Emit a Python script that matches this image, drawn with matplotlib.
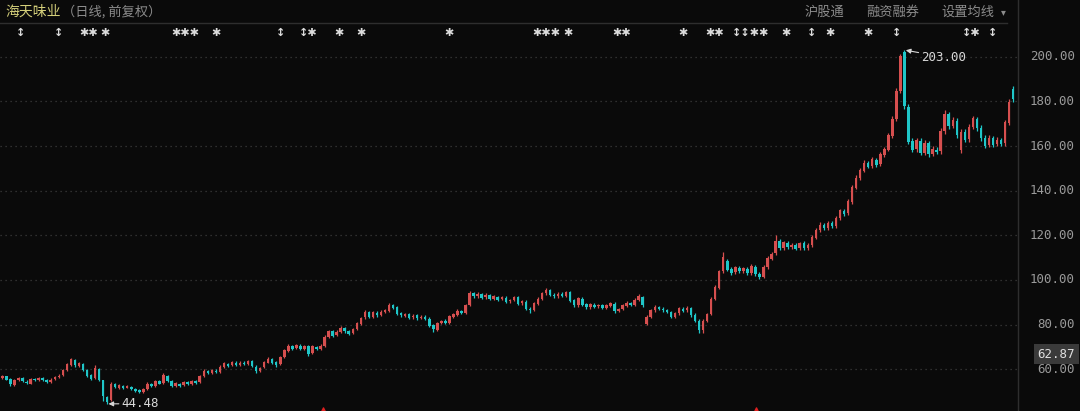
import matplotlib.pyplot as plt

# Daily candles (forward adjusted)
opens = [
    56.0, 56.8, 55.6, 53.0, 55.0, 56.1, 54.5, 53.6, 55.8, 55.0,
    56.2, 55.2, 54.1, 55.5, 56.5, 57.3, 59.6, 62.0, 64.2, 61.6,
    62.4, 59.5, 57.4, 56.0, 60.2, 55.0, 47.6, 46.2, 53.2, 51.8,
    52.6, 51.8, 52.2, 51.0, 50.6, 49.9, 51.0, 53.4, 52.6, 54.6,
    54.0, 57.0, 54.6, 52.6, 53.6, 52.8, 54.2, 53.2, 54.6, 54.2,
    57.0, 59.2, 58.4, 59.4, 58.8, 61.0, 62.4, 61.8, 63.0, 62.0,
    63.0, 62.4, 63.6, 61.2, 59.2, 60.8, 63.0, 64.6, 63.2, 62.2,
    65.6, 68.4, 70.4, 69.4, 70.6, 69.2, 70.2, 67.2, 70.0, 69.2,
    70.6, 74.4, 77.0, 75.2, 76.6, 78.4, 77.2, 76.2, 78.2, 80.4,
    83.2, 85.6, 83.6, 85.4, 84.4, 85.6, 86.2, 88.6, 87.8, 85.0,
    84.0, 84.6, 83.2, 84.2, 83.0, 83.6, 82.6, 79.6, 77.6, 80.8,
    81.8, 80.8, 83.6, 84.4, 86.0, 85.4, 89.0, 94.0, 92.6, 93.6,
    92.2, 93.2, 91.6, 92.4, 91.4, 92.0, 90.4, 91.2, 92.2, 89.6,
    90.2, 87.2, 86.6, 89.4, 91.4, 94.0, 95.4, 93.4, 92.6, 93.8,
    93.0, 94.6, 90.8, 88.6, 91.6, 89.2, 87.8, 89.0, 88.2, 88.8,
    87.6, 88.4, 89.4, 86.2, 87.0, 88.4, 89.6, 89.0, 91.2, 92.2,
    80.2, 83.6, 86.4, 87.8, 87.2, 86.6, 85.6, 83.6, 85.0, 87.2,
    86.4, 87.4, 84.4, 81.8, 77.6, 81.6, 84.8, 91.4, 96.6, 104.0,
    108.4, 104.8, 103.4, 105.4, 104.0, 105.0, 103.2, 106.0, 102.8, 101.4,
    105.6, 109.6, 112.0, 117.4, 114.4, 116.6, 114.8, 115.8, 114.2, 116.6,
    114.4, 115.6, 119.0, 122.4, 124.6, 123.4, 125.4, 124.2, 127.6, 131.0,
    129.8, 135.0, 141.4, 145.6, 149.0, 152.4, 151.0, 153.8, 151.8, 156.0,
    158.4, 164.6, 172.0, 184.6, 202.2, 177.6, 162.2, 158.6, 162.4, 157.0,
    161.2, 156.4, 158.4, 157.6, 166.6, 174.2, 169.0, 171.4, 158.0, 166.2,
    163.0, 168.4, 172.2, 168.2, 163.6, 160.4, 163.4, 160.8, 162.6, 161.2,
    170.4, 185.6,
]
closes = [
    56.8, 55.4, 53.2, 55.2, 56.0, 54.6, 53.8, 55.7, 55.1, 56.2,
    55.3, 54.2, 55.4, 56.6, 57.2, 59.8, 62.4, 64.4, 61.8, 62.6,
    59.6, 57.2, 55.6, 60.6, 55.4, 47.8, 45.4, 53.4, 52.0, 52.8,
    51.6, 52.4, 51.0, 50.4, 49.8, 51.0, 53.6, 52.6, 54.8, 53.6,
    57.4, 54.8, 52.4, 53.8, 52.6, 54.4, 53.2, 54.6, 54.0, 57.0,
    59.4, 58.2, 59.6, 58.6, 61.2, 62.6, 61.6, 63.2, 61.8, 63.0,
    62.2, 63.8, 61.4, 59.0, 60.6, 63.2, 64.8, 63.0, 62.0, 65.6,
    68.6, 70.6, 69.2, 70.8, 69.0, 70.4, 67.0, 70.2, 69.0, 70.6,
    74.6, 77.2, 75.0, 76.8, 78.6, 77.0, 76.0, 78.0, 80.6, 83.0,
    85.8, 83.4, 85.6, 84.2, 85.8, 86.4, 88.8, 87.6, 84.8, 84.2,
    84.8, 83.0, 84.0, 82.8, 83.6, 82.6, 79.4, 78.0, 80.6, 81.6,
    80.8, 83.8, 84.6, 86.2, 85.2, 88.8, 94.2, 92.6, 93.8, 92.0,
    93.4, 91.4, 92.6, 91.2, 92.2, 90.2, 91.0, 92.4, 89.4, 90.4,
    87.0, 86.4, 89.6, 91.6, 94.2, 95.6, 93.2, 92.6, 93.8, 92.8,
    94.4, 90.6, 88.6, 91.8, 89.0, 87.8, 89.2, 88.0, 88.8, 87.6,
    88.6, 89.6, 86.0, 87.0, 88.6, 89.8, 88.8, 91.2, 93.0, 88.6,
    83.6, 86.6, 88.0, 87.0, 86.4, 85.6, 83.4, 85.2, 87.4, 86.2,
    87.6, 84.2, 81.6, 77.8, 81.8, 84.6, 91.6, 96.8, 103.8, 110.2,
    104.6, 103.2, 105.6, 103.8, 105.2, 103.0, 106.2, 102.6, 101.2, 105.8,
    109.8, 111.8, 117.6, 114.2, 116.8, 114.6, 115.6, 114.0, 116.4, 114.2,
    115.6, 119.2, 122.6, 124.8, 123.2, 125.6, 124.0, 127.8, 131.2, 129.6,
    135.2, 141.6, 145.8, 149.2, 152.6, 150.8, 154.0, 151.6, 156.2, 158.6,
    164.8, 172.2, 184.8, 200.4, 178.0, 162.0, 158.4, 162.6, 156.8, 161.4,
    156.2, 158.6, 157.4, 166.8, 174.4, 168.8, 171.6, 164.8, 166.4, 162.8,
    168.6, 172.4, 168.0, 163.4, 160.2, 163.6, 160.6, 162.8, 161.0, 170.6,
    179.6, 181.2,
]
highs = [
    57.3, 57.2, 56.0, 55.6, 56.6, 56.5, 55.0, 56.2, 56.2, 56.7,
    56.6, 55.7, 55.9, 57.0, 57.7, 60.3, 62.9, 65.2, 64.6, 63.1,
    62.9, 60.0, 57.9, 61.8, 60.7, 55.4, 48.2, 54.2, 53.7, 53.3,
    53.0, 52.9, 52.6, 51.4, 51.0, 51.4, 54.1, 53.8, 55.3, 55.0,
    58.2, 57.5, 55.0, 54.2, 54.0, 54.8, 54.6, 55.0, 55.0, 57.5,
    59.9, 59.7, 60.1, 59.9, 61.7, 63.1, 62.9, 63.7, 63.5, 63.5,
    63.5, 64.3, 64.1, 61.7, 61.1, 63.7, 65.3, 65.1, 63.7, 66.1,
    69.2, 71.2, 71.0, 71.4, 71.2, 71.0, 70.8, 70.8, 70.6, 71.2,
    75.2, 77.8, 77.6, 77.4, 79.2, 79.0, 77.8, 78.6, 81.2, 83.6,
    86.5, 86.2, 86.2, 86.0, 86.4, 87.0, 89.8, 89.2, 88.3, 85.6,
    85.4, 85.2, 84.6, 84.8, 84.2, 84.2, 83.2, 80.2, 81.2, 82.2,
    82.4, 84.4, 85.2, 86.8, 86.6, 89.4, 95.0, 94.6, 94.4, 94.2,
    94.0, 93.8, 93.2, 93.0, 92.8, 92.6, 91.6, 93.0, 92.8, 91.0,
    90.8, 87.8, 90.2, 92.2, 94.8, 96.4, 96.0, 94.0, 94.4, 94.4,
    95.0, 95.2, 91.4, 92.4, 92.2, 89.8, 89.8, 89.6, 89.4, 89.4,
    89.2, 90.2, 90.0, 87.6, 89.2, 90.4, 90.2, 91.8, 93.6, 92.8,
    84.2, 87.2, 88.6, 88.4, 87.8, 87.2, 86.2, 85.8, 88.0, 87.8,
    88.2, 88.0, 85.0, 82.4, 82.4, 85.2, 92.2, 97.6, 104.6, 112.6,
    109.2, 105.6, 106.4, 106.2, 106.0, 105.8, 107.0, 106.8, 103.6, 106.6,
    110.6, 112.6, 120.0, 118.2, 117.6, 117.4, 116.4, 116.6, 117.2, 117.4,
    116.4, 120.0, 123.4, 125.8, 125.4, 126.4, 126.2, 128.6, 132.0, 131.8,
    136.2, 142.6, 146.8, 150.2, 153.6, 153.4, 155.0, 154.8, 157.2, 159.6,
    166.0, 173.4, 186.0, 201.2, 203.0, 178.6, 163.4, 163.8, 163.6, 162.6,
    162.4, 159.8, 159.6, 168.0, 176.0, 175.4, 172.8, 172.6, 167.6, 167.4,
    169.8, 173.4, 173.2, 169.4, 164.8, 164.8, 164.6, 164.0, 163.8, 171.8,
    181.0, 186.8,
]
lows = [
    55.6, 55.0, 52.6, 52.5, 54.6, 54.1, 53.3, 53.2, 54.7, 54.6,
    54.9, 53.7, 53.7, 55.1, 56.1, 56.9, 59.2, 61.6, 61.2, 61.1,
    59.1, 56.7, 55.1, 55.6, 54.9, 46.0, 44.48, 45.8, 51.5, 51.3,
    51.2, 51.4, 50.6, 50.0, 49.4, 49.5, 50.6, 52.2, 52.2, 53.2,
    53.6, 54.3, 51.9, 52.2, 52.2, 52.4, 52.8, 52.8, 53.6, 53.8,
    56.6, 57.8, 58.0, 58.2, 58.4, 60.6, 61.2, 61.4, 61.3, 61.6,
    61.8, 62.0, 60.9, 58.4, 58.8, 60.4, 62.6, 62.5, 61.0, 61.8,
    65.1, 67.9, 68.7, 68.9, 68.5, 68.7, 66.0, 66.7, 68.5, 68.7,
    70.1, 73.9, 74.4, 74.7, 76.1, 76.4, 75.4, 75.7, 77.7, 79.9,
    82.6, 82.8, 83.0, 83.6, 83.8, 85.0, 85.6, 87.0, 84.2, 83.6,
    83.4, 82.4, 82.6, 82.2, 82.4, 82.0, 78.8, 76.6, 77.0, 80.2,
    80.2, 80.2, 83.0, 83.8, 84.6, 84.8, 88.4, 92.0, 92.0, 91.4,
    91.6, 90.8, 91.0, 90.6, 90.8, 89.6, 89.8, 90.6, 88.8, 89.0,
    86.4, 85.4, 86.0, 88.8, 90.8, 93.4, 92.6, 92.0, 92.0, 92.2,
    92.4, 90.0, 88.0, 88.0, 88.4, 87.2, 87.2, 87.4, 87.6, 87.0,
    87.0, 87.8, 85.4, 85.6, 86.4, 87.8, 88.2, 88.4, 90.6, 88.0,
    79.8, 83.0, 85.8, 86.4, 85.8, 85.0, 82.8, 83.0, 84.4, 85.6,
    85.8, 83.6, 81.0, 76.4, 76.2, 81.0, 84.2, 90.8, 96.0, 103.2,
    103.8, 102.4, 102.6, 103.0, 103.2, 102.2, 102.4, 101.8, 100.6, 100.8,
    104.8, 108.8, 111.2, 113.4, 113.6, 113.8, 114.0, 113.2, 113.4, 113.4,
    113.6, 114.8, 118.2, 121.6, 122.4, 122.6, 123.2, 123.4, 126.8, 128.8,
    129.0, 134.2, 140.6, 144.8, 148.2, 150.0, 150.2, 150.8, 151.0, 155.2,
    157.6, 163.8, 171.2, 183.8, 176.8, 160.8, 157.2, 157.4, 155.8, 156.0,
    155.0, 155.4, 156.4, 156.6, 165.6, 167.6, 168.0, 163.6, 157.0, 161.8,
    162.0, 167.4, 166.8, 162.4, 159.0, 159.4, 159.6, 159.8, 160.0, 160.2,
    169.4, 179.8,
]

y_ticks = [60, 80, 100, 120, 140, 160, 180, 200]
# (candle index, symbols) for the event strip under the header
event_marks = [
    (4.5, '↕'), (14, '↕'), (21.5, '✱✱'), (25.5, '✱'), (45.5, '✱✱✱'),
    (53, '✱'), (69, '↕'), (76, '↕✱'), (83.5, '✱'), (89, '✱'),
    (111, '✱'), (135, '✱✱✱'), (140.5, '✱'), (153.8, '✱✱'),
    (169, '✱'), (176.8, '✱✱'), (185.8, '↕↕✱✱'), (194.5, '✱'),
    (201, '↕'), (205.5, '✱'), (215, '✱'), (222, '↕'), (240.5, '↕✱'),
    (246, '↕'),
]
signal_marks = [79.5, 187.2]

UP = '#d64f4f'
DOWN = '#1fc6c8'
BG = '#0a0a0a'

fig = plt.figure(figsize=(10.8, 4.11), dpi=100, facecolor=BG)
ax = fig.add_axes([0, 0, 1018 / 1080, 388 / 411], facecolor=BG)

x = list(range(len(closes)))
colors = [UP if c >= o else DOWN for o, c in zip(opens, closes)]
ax.vlines(x, lows, highs, colors=colors, lw=0.9, zorder=3)
bottoms = [min(o, c) for o, c in zip(opens, closes)]
heights = [max(abs(c - o), 0.3) for o, c in zip(opens, closes)]
ax.bar(x, heights, bottom=bottoms, width=0.62, color=colors, lw=0, zorder=4)

ax.set_xlim(-0.6, 252.2)
ax.set_ylim(41.3, 215.1)
for v in y_ticks:
    ax.axhline(v, color='#3c3c3c', lw=0.9, ls=(0, (1, 3)), zorder=1)
    ax.text(1075 / 1018, v, f'{v:.2f}', transform=ax.get_yaxis_transform(),
            ha='right', va='center', color='#9a9a9a', fontsize=9,
            family='DejaVu Sans Mono', clip_on=False)

for s in ax.spines.values():
    s.set_visible(False)
ax.set_xticks([])
ax.set_yticks([])

# high / low annotations
ax.annotate('203.00', xy=(224, 203.0), xytext=(228.2, 199.8),
             color='#d8d8d8', fontsize=9, family='DejaVu Sans Mono',
             va='center', ha='left',
             arrowprops=dict(arrowstyle='-|>', color='#d8d8d8', lw=0.8,
                             mutation_scale=7, shrinkA=0, shrinkB=1))
ax.annotate('44.48', xy=(26, 44.48), xytext=(29.6, 44.6),
            color='#d8d8d8', fontsize=9, family='DejaVu Sans Mono',
            va='center', ha='left',
            arrowprops=dict(arrowstyle='-|>', color='#d8d8d8', lw=0.8,
                            mutation_scale=7, shrinkA=0, shrinkB=1))

# event strip
for xi, sym in event_marks:
    ax.text(xi, 1 - 10 / 388, sym, transform=ax.get_xaxis_transform(),
            ha='center', va='center', color='#dcdcdc', fontsize=8,
            fontweight='bold', family='DejaVu Sans')

# small red signal markers at bottom
ax.scatter(signal_marks, [41.9] * len(signal_marks), marker='^', s=14,
           color='#e02020', zorder=5, clip_on=False)

# header
fig.text(5 / 1080, 1 - 12 / 411, '海天味业', color='#d4cf7a', fontsize=10,
         family=['Noto Sans CJK SC', 'DejaVu Sans'], va='center')
fig.text(62 / 1080, 1 - 12 / 411, '（日线, 前复权）', color='#8c8c8c',
         fontsize=9.5, family=['Noto Sans CJK SC', 'DejaVu Sans'], va='center')
for xp, label in [(805, '沪股通'), (866, '融资融券'), (941, '设置均线')]:
    fig.text(xp / 1080, 1 - 12 / 411, label, color='#8c8c8c', fontsize=9.5,
             family=['Noto Sans CJK SC', 'DejaVu Sans'], va='center')
fig.text(1001 / 1080, 1 - 12 / 411, '▾', color='#8c8c8c', fontsize=7,
         family='DejaVu Sans', va='center')

# frame lines
fig.add_artist(plt.Line2D([0, 1007 / 1080], [1 - 23 / 411] * 2,
                          color='#2e2e2e', lw=1))
fig.add_artist(plt.Line2D([1018 / 1080] * 2, [0, 1], color='#2e2e2e', lw=1))

# current value box
fig.text(1075 / 1080, 1 - 354 / 411, '62.87', color='#e0e0e0', fontsize=9,
         family='DejaVu Sans Mono', ha='right', va='center',
         bbox=dict(boxstyle='square,pad=0.3', fc='#3a3a3a', ec='none'))

plt.savefig('out.png', dpi=100, facecolor=BG)
